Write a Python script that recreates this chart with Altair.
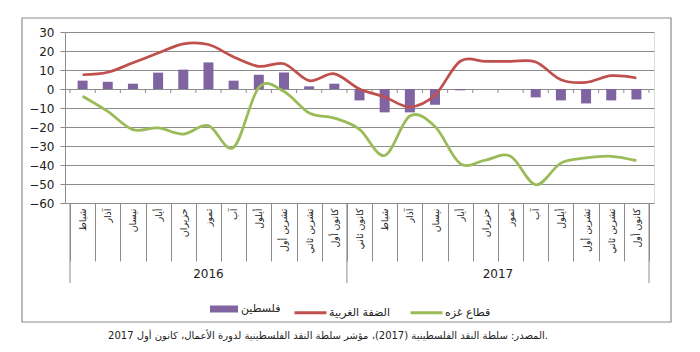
import altair as alt
import pandas as pd

months = ["شباط", "آذار", "نيسان", "أيار", "حزيران", "تموز", "آب", "أيلول",
          "تشرين أول", "تشرين ثاني", "كانون أول",
          "كانون ثاني", "شباط", "آذار", "نيسان", "أيار", "حزيران", "تموز", "آب",
          "أيلول", "تشرين أول", "تشرين ثاني", "كانون أول"]
years = ["2016", "2017"]
year_counts = [11, 12]

palestine = [4.4, 3.8, 2.8, 8.6, 10.2, 14.0, 4.4, 7.5, 8.7, 1.4, 2.8,
             -6.0, -12.3, -12.3, -8.3, -0.7, 0.0, 0.0, -4.4, -6.0, -7.6, -6.0, -5.5]
west_bank = [7.5, 8.8, 13.8, 18.9, 23.8, 23.4, 16.9, 11.9, 13.3, 4.4, 8.0,
             0.0, -4.2, -9.5, -3.2, 14.6, 14.5, 14.5, 14.2, 4.9, 3.5, 7.0, 5.8]
gaza = [-3.8, -11.8, -21.4, -20.5, -23.7, -19.3, -30.7, 0.8, -1.3, -12.6, -15.3,
        -21.2, -35.0, -14.2, -19.8, -39.3, -37.4, -35.4, -50.4, -39.0, -36.3, -35.4, -37.7]
y_ticks = [-60, -50, -40, -30, -20, -10, 0, 10, 20, 30]

name_pal = "فلسطين"
name_wb = "الضفة الغربية"
name_gz = "قطاع غزه"
source = "المصدر: سلطة النقد الفلسطينية (2017)، مؤشر سلطة النقد الفلسطينية لدورة الأعمال، كانون أول 2017."

n = len(months)
FONT = "DejaVu Sans"
GRID = "#8c8c8c"

bars_df = pd.DataFrame({"xc": [i + 0.5 for i in range(n)], "v": palestine, "s": name_pal})
lines_df = pd.concat([
    pd.DataFrame({"xc": [i + 0.5 for i in range(n)], "v": west_bank, "r": name_wb, "o": 0}),
    pd.DataFrame({"xc": [i + 0.5 for i in range(n)], "v": gaza, "r": name_gz, "o": 1}),
])
edges_df = pd.DataFrame({"e": list(range(n + 1)), "v": [0] * (n + 1)})
groups = [0]
for c in year_counts:
    groups.append(groups[-1] + c)
groups_df = pd.DataFrame({"e": groups})
years_df = pd.DataFrame({"year": years,
                         "xc": [(groups[i] + groups[i + 1]) / 2 for i in range(len(years))]})
source_df = pd.DataFrame({"t": [source]})

xscale = alt.Scale(domain=[0, n], nice=False, zero=False)
yscale = alt.Scale(domain=[y_ticks[0], y_ticks[-1]], nice=False)


def yaxis():
    return alt.Axis(values=y_ticks, grid=True, gridColor=GRID, gridOpacity=1,
                    domainColor=GRID, tickColor=GRID, tickSize=5, labelFontSize=12,
                    labelFont=FONT, labelColor="#222", labelPadding=6, labelOverlap=False,
                    labelBound=False, labelFlush=False, title=None, orient="left")


label_expr = "[" + ",".join("'" + m + "'" for m in months) + "][floor(datum.value)]"

bars = alt.Chart(bars_df).mark_bar(size=10).encode(
    x=alt.X("xc:Q", scale=xscale,
            axis=alt.Axis(orient="bottom", values=[i + 0.5 for i in range(n)], labelExpr=label_expr,
                          labelAngle=270, labelAlign="right", labelBaseline="middle",
                          tickSize=0, domain=False, grid=False, labelPadding=5,
                          labelOverlap=False, labelBound=False,
                          labelFontSize=9.5, labelFont=FONT, labelColor="#222", title=None)),
    y=alt.Y("v:Q", scale=yscale, axis=yaxis()),
    color=alt.Color("s:N", scale=alt.Scale(domain=[name_pal], range=["#8064A2"]),
                    legend=alt.Legend(orient="none", legendX=145, legendY=263, title=None,
                                      symbolType="M-1,-0.25H1V0.25H-1Z", symbolSize=784,
                                      symbolStrokeWidth=0, symbolOpacity=1,
                                      labelFont=FONT, labelFontSize=11, labelColor="#222",
                                      labelOffset=3)),
)

lines = alt.Chart(lines_df).mark_line(interpolate="cardinal", strokeWidth=2.75).encode(
    x=alt.X("xc:Q", scale=xscale, axis=None),
    y=alt.Y("v:Q", scale=yscale, axis=yaxis()),
    stroke=alt.Stroke("r:N", scale=alt.Scale(domain=[name_wb, name_gz], range=["#C0504D", "#9BBB59"]),
                      legend=alt.Legend(orient="none", legendX=228, legendY=263, title=None,
                                        direction="horizontal", symbolType="stroke",
                                        symbolSize=1024, symbolStrokeWidth=3,
                                        labelFont=FONT, labelFontSize=11, labelColor="#222",
                                        labelOffset=1, columnPadding=14)),
    order="o:Q",
)

zero_ticks = alt.Chart(edges_df).mark_rule(color=GRID).encode(
    x=alt.X("e:Q", scale=xscale,
            axis=alt.Axis(orient="bottom", values=list(range(n + 1)), labels=False, tickSize=58,
                          tickColor=GRID, domain=False, grid=False, title=None)),
    y=alt.Y("v:Q", scale=yscale, axis=yaxis()),
    y2=alt.value(61),
)

group_rules = alt.Chart(groups_df).mark_rule(color=GRID).encode(
    x=alt.X("e:Q", scale=xscale, axis=None),
    y=alt.value(171),
    y2=alt.value(251),
)

year_text = alt.Chart(years_df).mark_text(font=FONT, fontSize=12, color="#222", baseline="middle").encode(
    x=alt.X("xc:Q", scale=xscale, axis=None),
    y=alt.value(242),
    text="year:N",
)

frame = alt.Chart(pd.DataFrame({"a": [0]})).mark_rect(fill=None, stroke=GRID, strokeWidth=1.2).encode(
    x=alt.value(-43), x2=alt.value(606), y=alt.value(-14), y2=alt.value(290),
)

source_text = alt.Chart(source_df).mark_text(font=FONT, fontSize=10, color="#222",
                                             align="center", baseline="middle").encode(
    x=alt.value(263), y=alt.value(304), text="t:N",
)

chart = alt.layer(frame, zero_ticks, group_rules, bars, lines, year_text, source_text).resolve_axis(
    x="independent"
).properties(
    width=589, height=171,
    autosize=alt.AutoSizeParams(type="none"),
    padding={"left": 65, "top": 32, "right": 46, "bottom": 149},
).configure_view(stroke=None).configure(background="white").configure_axisY(labelOverlap=False)

chart.save("out.html", embed_options={"renderer": "svg", "actions": False})
